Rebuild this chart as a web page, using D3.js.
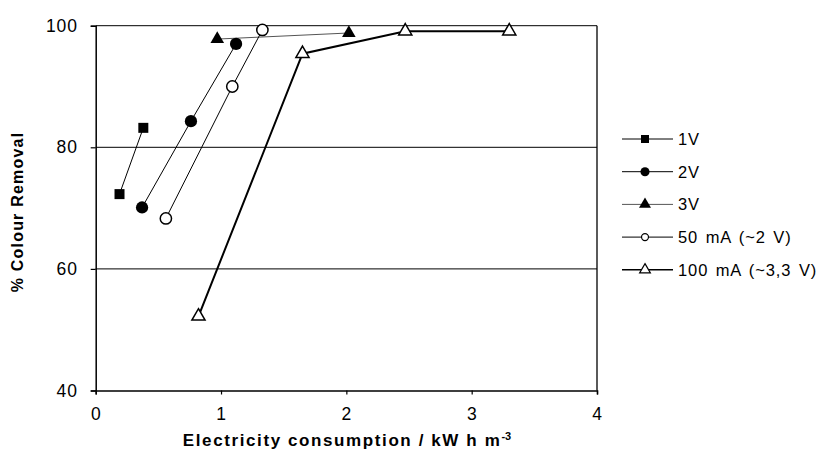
<!DOCTYPE html>
<html><head><meta charset="utf-8">
<script src="https://cdn.jsdelivr.net/npm/d3@7"></script>
<style>body{margin:0;background:#fff}svg{display:block}text{font-family:"Liberation Sans",Arial,sans-serif}</style>
</head><body><svg id="c" width="830" height="463"></svg>
<script>
const seriesNames = ["1V","2V","3V","50 mA (~2 V)","100 mA (~3,3 V)"];
const s1V_x = [0.19, 0.38];
const s1V_y = [72.3, 83.2];
const s2V_x = [0.37, 0.76, 1.12];
const s2V_y = [70.1, 84.3, 97.0];
const s3V_x = [0.97, 2.02];
const s3V_y = [97.8, 98.8];
const s50_x = [0.56, 1.09, 1.33];
const s50_y = [68.3, 90.0, 99.3];
const s100_x = [0.82, 1.65, 2.47, 3.30];
const s100_y = [52.2, 95.4, 99.1, 99.1];
const xTicks = [0,1,2,3,4];
const yTicks = [40,60,80,100];

const svg = d3.select("#c");
const x = d3.scaleLinear().domain([0,4]).range([95.7,597]);
const y = d3.scaleLinear().domain([40,100]).range([390.5,25.7]);

svg.append("g").selectAll("line").data(yTicks.filter(v=>v>40)).join("line")
  .attr("x1",x(0)).attr("x2",x(4)).attr("y1",d=>y(d)).attr("y2",d=>y(d))
  .attr("stroke","#000").attr("stroke-width",1);
svg.append("line").attr("x1",x(4)).attr("x2",x(4)).attr("y1",y(100)).attr("y2",y(40)).attr("stroke","#000").attr("stroke-width",1.3);

const xAxis = svg.append("g").attr("transform",`translate(0,${y(40)})`)
  .call(d3.axisBottom(x).tickValues(xTicks).tickSize(4).tickPadding(10).tickFormat(d3.format("d")));
const yAxis = svg.append("g").attr("transform",`translate(${x(0)},0)`)
  .call(d3.axisLeft(y).tickValues(yTicks).tickSize(5).tickPadding(13).tickFormat(d3.format("d")));
[xAxis,yAxis].forEach(a=>{
  a.select(".domain").attr("stroke","#000").attr("stroke-width",1.5);
  a.selectAll(".tick line").attr("stroke","#000").attr("stroke-width",1.2);
  a.selectAll("text").attr("font-size",17.5).attr("fill","#000").attr("letter-spacing",0.8)
   .style("font-family","Liberation Sans, Arial, sans-serif");
});
xAxis.selectAll("text").attr("dy","0.9em");

const series = [
  {xs:s1V_x, ys:s1V_y, sym:"square", fill:"#000", lw:1, lc:"#000", size:100, lsize:64},
  {xs:s2V_x, ys:s2V_y, sym:"circle", fill:"#000", lw:1, lc:"#000", size:118, lsize:65},
  {xs:s3V_x, ys:s3V_y, sym:"triangle", fill:"#000", lw:1, lc:"#555", size:80, lsize:62},
  {xs:s50_x, ys:s50_y, sym:"circle", fill:"#fff", lw:1, lc:"#000", size:100, lsize:38},
  {xs:s100_x, ys:s100_y, sym:"triangle", fill:"#fff", lw:2, lc:"#000", size:75, lsize:50}
];
const symMap = {square:d3.symbolSquare, circle:d3.symbolCircle, triangle:d3.symbolTriangle};
const line = d3.line().x(d=>x(d[0])).y(d=>y(d[1]));

series.forEach(s=>{
  const pts = s.xs.map((v,i)=>[v,s.ys[i]]);
  svg.append("path").attr("d",line(pts)).attr("fill","none").attr("stroke",s.lc).attr("stroke-width",s.lw);
});
series.forEach(s=>{
  const pts = s.xs.map((v,i)=>[v,s.ys[i]]);
  svg.append("g").selectAll("path").data(pts).join("path")
    .attr("d",d3.symbol().type(symMap[s.sym]).size(s.size))
    .attr("transform",d=>`translate(${x(d[0])},${y(d[1])})`)
    .attr("fill",s.fill).attr("stroke","#000").attr("stroke-width",s.fill==="#fff"?1.5:0);
});

const lg = svg.append("g");
series.forEach((s,i)=>{
  const ly = 139 + i*32.7;
  lg.append("line").attr("x1",622).attr("x2",673).attr("y1",ly).attr("y2",ly).attr("stroke",s.lc).attr("stroke-width",s.lw===2?1.6:1);
  lg.append("path").attr("d",d3.symbol().type(symMap[s.sym]).size(s.lsize)).attr("transform",`translate(645,${ly})`)
    .attr("fill",s.fill).attr("stroke","#000").attr("stroke-width",s.fill==="#fff"?1.2:0);
  lg.append("text").attr("x",678).attr("y",ly+6).attr("font-size",16.5).attr("letter-spacing",0.9).attr("word-spacing",2).text(seriesNames[i]);
});

const xt = svg.append("text").attr("x",347).attr("y",446).attr("text-anchor","middle").attr("font-size",17).attr("font-weight","bold").attr("letter-spacing",1.6);
xt.append("tspan").text("Electricity consumption / kW h m");
xt.append("tspan").attr("dy",-6).attr("font-size",11).attr("letter-spacing",0).text("-3");
svg.append("text").attr("transform","translate(23,212) rotate(-90)").attr("text-anchor","middle").attr("font-size",16).attr("font-weight","bold").attr("letter-spacing",1.2).text("% Colour Removal");
</script></body></html>
